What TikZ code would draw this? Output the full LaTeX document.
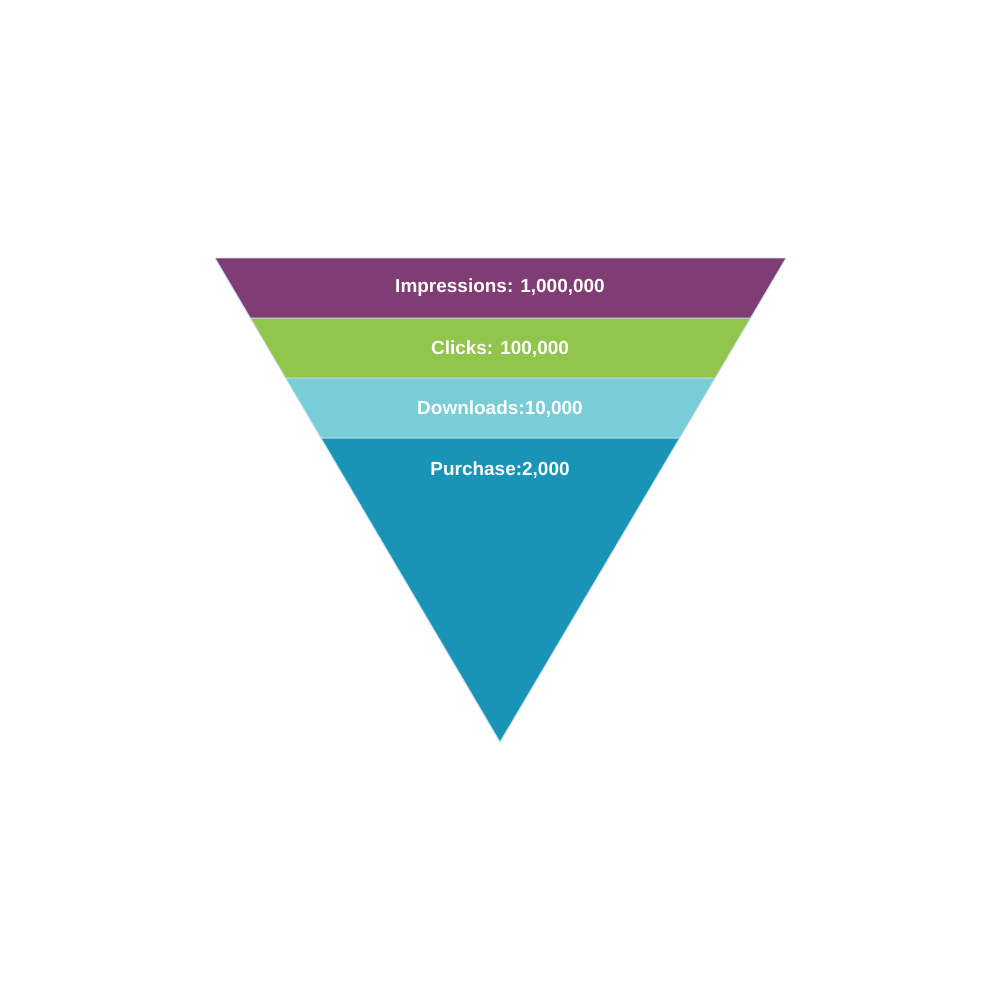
\documentclass[tikz,border=0pt]{standalone}
\usepackage{fontspec}
\setmainfont{Liberation Sans}
\usepackage{tikz}
\usetikzlibrary{calc}
\definecolor{plum}{HTML}{7F3D74}
\definecolor{lime}{HTML}{92C54B}
\definecolor{sky}{HTML}{78CDD7}
\definecolor{sea}{HTML}{1A94B6}
\definecolor{rim}{HTML}{C8DCF0}

\begin{document}
\begin{tikzpicture}[x=0.02cm,y=-0.02cm,
  band/.style={draw=rim,line width=0.5pt,line join=miter},
  lbl/.style={text=white,font=\fontsize{10.8}{13}\selectfont\bfseries,inner sep=0pt}]
\useasboundingbox (0,0) rectangle (1000,1000);
\coordinate (tl) at (215,258); \coordinate (tr) at (786,258); \coordinate (apex) at (500,742);
% band edges along the sides
\coordinate (l1) at ($(tl)!60/484!(apex)$); \coordinate (r1) at ($(tr)!60/484!(apex)$);
\coordinate (l2) at ($(tl)!120/484!(apex)$); \coordinate (r2) at ($(tr)!120/484!(apex)$);
\coordinate (l3) at ($(tl)!180/484!(apex)$); \coordinate (r3) at ($(tr)!180/484!(apex)$);
\fill[sea,band] (l3)--(r3)--(apex)--cycle;
\fill[sky,band] (l2)--(r2)--(r3)--(l3)--cycle;
\fill[lime,band] (l1)--(r1)--(r2)--(l2)--cycle;
\fill[plum,band] (tl)--(tr)--(r1)--(l1)--cycle;
\node[lbl] (imp) at (500,288) {Impressions: 1,000,000};
\node[lbl] (clk) at (500,349) {Clicks: 100,000};
\node[lbl] (dwn) at (500,409) {Downloads:10,000};
\node[lbl] (pur) at (500,470) {Purchase:2,000};
\end{tikzpicture}
\end{document}
